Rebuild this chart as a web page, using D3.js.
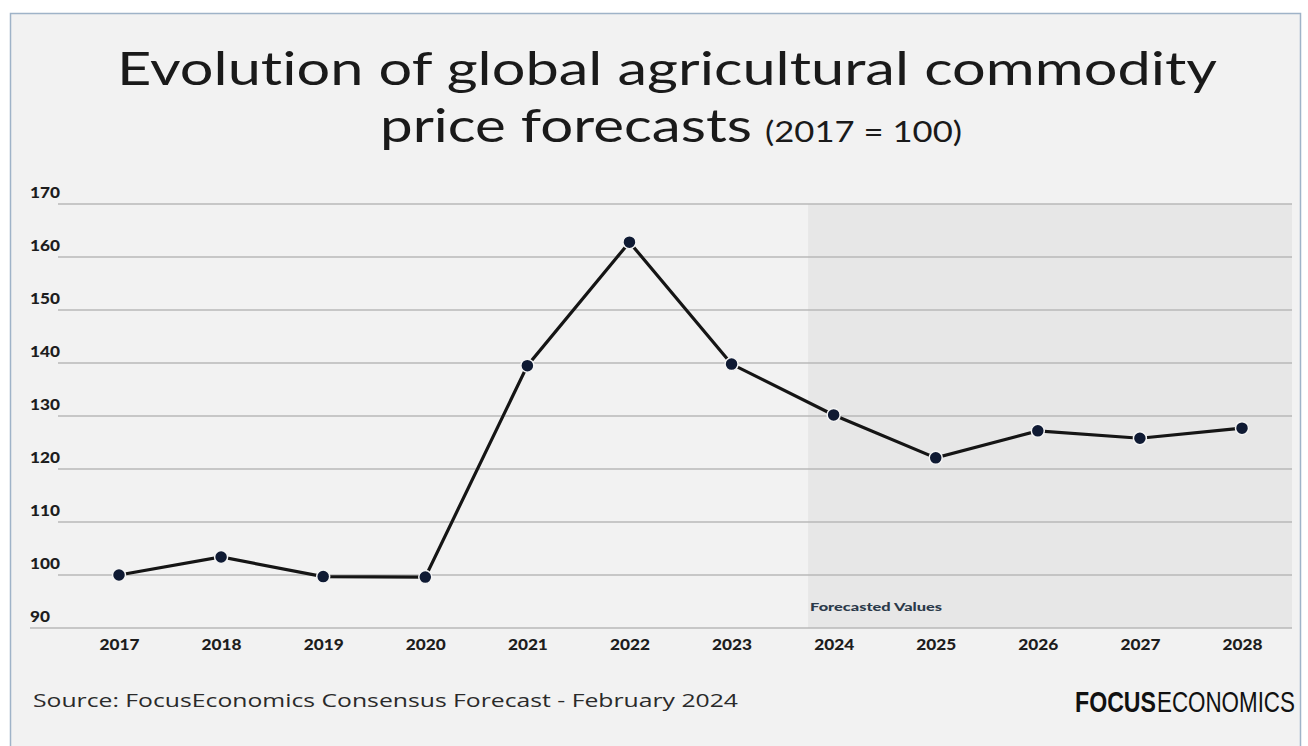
<!DOCTYPE html>
<html>
<head>
<meta charset="utf-8">
<script src="https://cdn.jsdelivr.net/npm/d3@7"></script>
<style>
  html, body { margin: 0; padding: 0; background: #ffffff; }
  svg { display: block; }
  text { font-variant-ligatures: none; font-feature-settings: "liga" 0, "clig" 0; }
</style>
</head>
<body>
<svg id="chart" width="1308" height="746"></svg>
<script>
// ---- data ----
const years = ["2017","2018","2019","2020","2021","2022","2023","2024","2025","2026","2027","2028"];
const values = [100, 103.4, 99.7, 99.6, 139.5, 162.8, 139.8, 130.2, 122.1, 127.2, 125.8, 127.7];
const yTicks = [90, 100, 110, 120, 130, 140, 150, 160, 170];
const forecastStart = "2024";
const forecastLabel = "Forecasted Values";
const titleLine1 = "Evolution of global agricultural commodity";
const titleLine2a = "price forecasts";
const titleLine2b = "(2017 = 100)";
const sourceText = "Source: FocusEconomics Consensus Forecast - February 2024";
const logoBold = "FOCUS";
const logoLight = "ECONOMICS";

const svg = d3.select("#chart");

// frame
svg.append("rect").attr("x", 10.5).attr("y", 13.5).attr("width", 1290).attr("height", 740)
  .attr("fill", "#f2f2f2").attr("stroke", "#9fb3c8").attr("stroke-width", 1.5);

const x = d3.scalePoint().domain(years).range([119, 1242]);
const y = d3.scaleLinear().domain([90, 170]).range([628, 204]);

const gridX0 = 58, gridX1 = 1292;
const tickFont = "Lato, 'Open Sans', sans-serif";

// forecast shading
const fx0 = x(forecastStart) - x.step() * 0.25;
svg.append("rect")
  .attr("x", fx0).attr("y", y(170))
  .attr("width", gridX1 - fx0).attr("height", y(90) - y(170))
  .attr("fill", "#e7e7e7");

// gridlines
svg.append("g").selectAll("line").data(yTicks).join("line")
  .attr("x1", d => d === 90 ? 30 : gridX0).attr("x2", gridX1)
  .attr("y1", d => y(d)).attr("y2", d => y(d))
  .attr("stroke", "#b9b9b9").attr("stroke-width", 1.6);

// y labels
svg.append("g").selectAll("text").data(yTicks).join("text")
  .attr("x", 30).attr("y", d => y(d) - 6)
  .attr("font-family", tickFont).attr("font-weight", 900)
  .attr("font-size", 15.5).attr("fill", "#1d1d1d")
  .attr("textLength", d => String(d).length * 10).attr("lengthAdjust", "spacingAndGlyphs")
  .text(d => d);

// x axis labels
const xAxis = d3.axisBottom(x).tickSize(0).tickPadding(0);
const gx = svg.append("g").attr("transform", `translate(0, ${y(90) + 11})`).call(xAxis);
gx.select(".domain").remove();
gx.selectAll("text")
  .attr("font-family", tickFont).attr("font-weight", 900)
  .attr("font-size", 15.5).attr("fill", "#1d1d1d")
  .attr("textLength", 40).attr("lengthAdjust", "spacingAndGlyphs");

// forecast label
svg.append("text").attr("x", fx0 + 2).attr("y", y(90) - 17)
  .attr("font-family", tickFont).attr("font-weight", 900)
  .attr("font-size", 11.5).attr("fill", "#2b3a4a")
  .attr("textLength", 132).attr("lengthAdjust", "spacingAndGlyphs")
  .text(forecastLabel);

// line
const line = d3.line().x((d, i) => x(years[i])).y(d => y(d));
svg.append("path").datum(values)
  .attr("d", line).attr("fill", "none")
  .attr("stroke", "#151515").attr("stroke-width", 3.2).attr("stroke-linejoin", "miter");

// points
svg.append("g").selectAll("circle").data(values).join("circle")
  .attr("cx", (d, i) => x(years[i])).attr("cy", d => y(d)).attr("r", 6.5)
  .attr("fill", "#0f1a33").attr("stroke", "#f4f4f4").attr("stroke-width", 1.5);

// title
const titleFont = "Lato, 'Open Sans', sans-serif";
svg.append("text").attr("x", 667).attr("y", 85).attr("text-anchor", "middle")
  .attr("font-family", titleFont).attr("font-weight", 400)
  .attr("font-size", 47).attr("fill", "#1a1a1a")
  .attr("textLength", 1100).attr("lengthAdjust", "spacingAndGlyphs")
  .text(titleLine1);
svg.append("text").attr("x", 380).attr("y", 142)
  .attr("font-family", titleFont).attr("fill", "#1a1a1a")
  .attr("font-size", 47).attr("textLength", 372).attr("lengthAdjust", "spacingAndGlyphs")
  .text(titleLine2a);
svg.append("text").attr("x", 765).attr("y", 142)
  .attr("font-family", titleFont).attr("fill", "#1a1a1a")
  .attr("font-size", 29).attr("textLength", 197).attr("lengthAdjust", "spacingAndGlyphs")
  .text(titleLine2b);

// source
svg.append("text").attr("x", 33).attr("y", 707)
  .attr("font-family", "'Open Sans', 'Noto Sans', sans-serif")
  .attr("font-size", 19).attr("fill", "#2a2a2a")
  .attr("textLength", 705).attr("lengthAdjust", "spacingAndGlyphs")
  .text(sourceText);

// logo (condensed by horizontal scaling to fit the target widths)
const logoFont = "'Liberation Sans Narrow', 'Liberation Sans', sans-serif";
function condensed(str, weight, x0, targetW) {
  const g = svg.append("g");
  const t = g.append("text").attr("x", 0).attr("y", 0)
    .attr("font-family", logoFont).attr("font-size", 30).attr("font-weight", weight)
    .attr("fill", "#111").text(str);
  const w = t.node().getComputedTextLength();
  g.attr("transform", `translate(${x0}, 712) scale(${targetW / w}, 1)`);
}
condensed(logoBold, 700, 1075, 81);
condensed(logoLight, 400, 1157, 138);
</script>
</body>
</html>
